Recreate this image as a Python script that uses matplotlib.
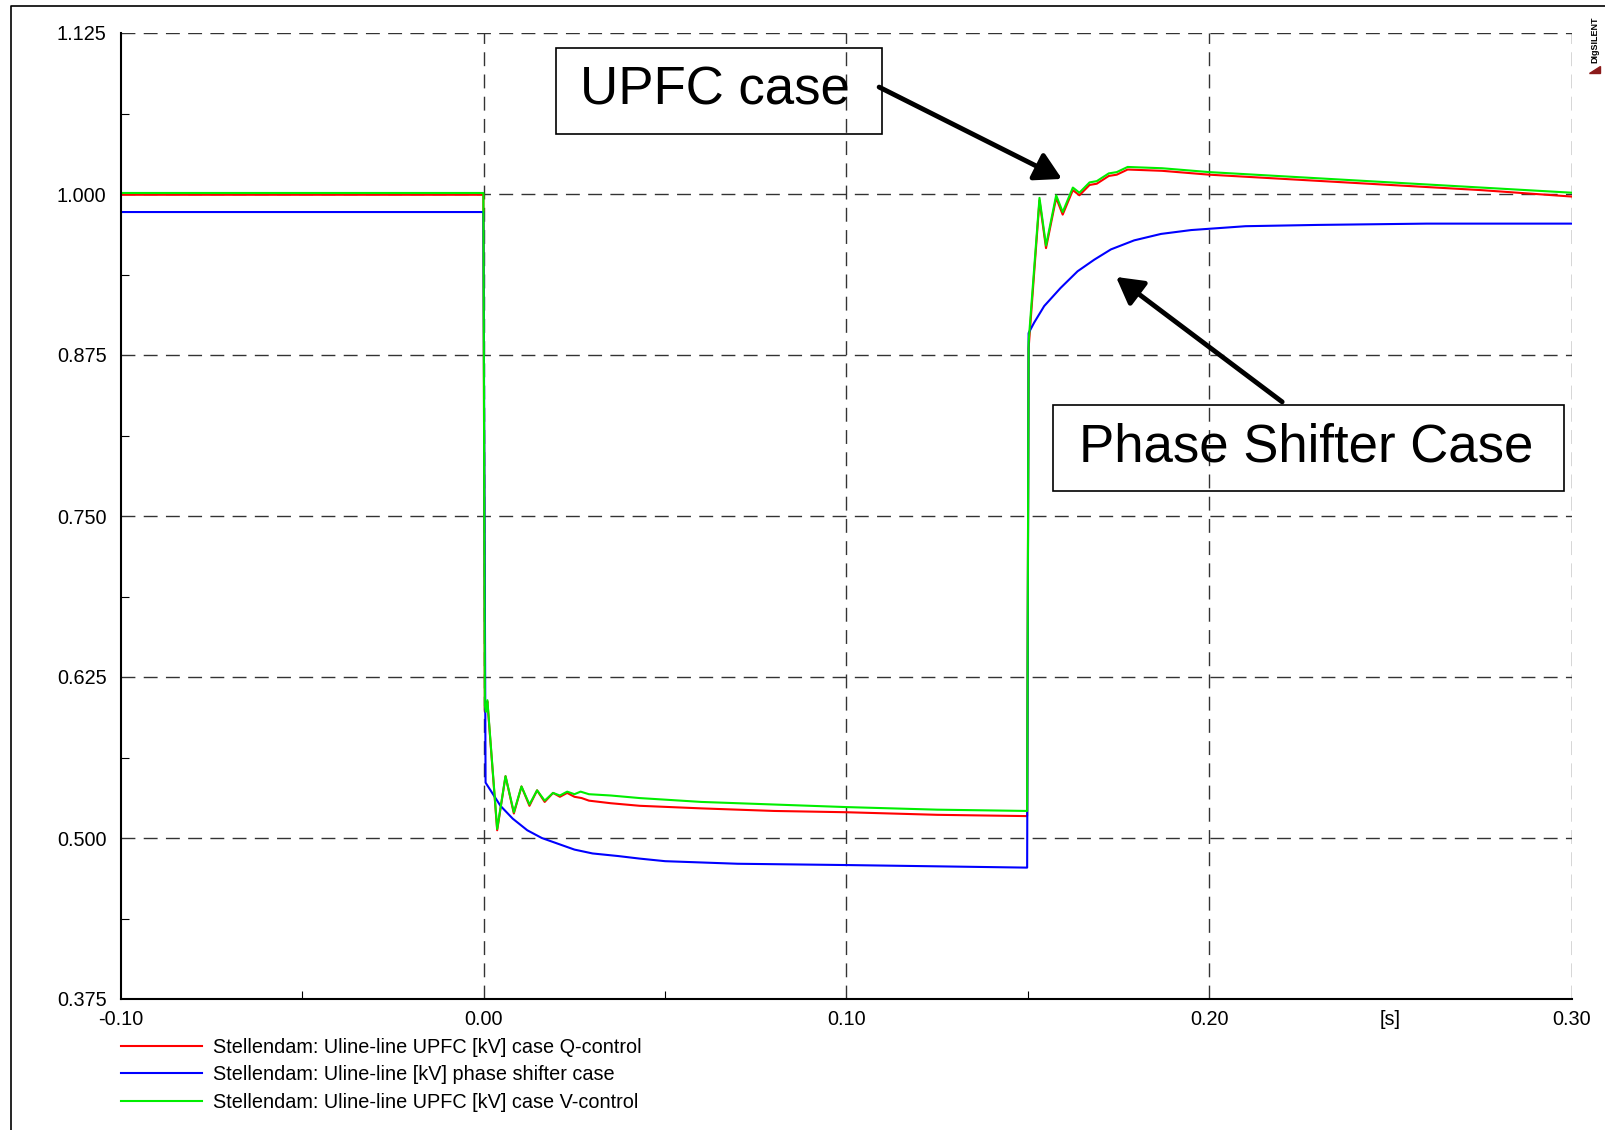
import matplotlib
matplotlib.use("Agg")
import matplotlib.pyplot as plt
from matplotlib.lines import Line2D
from matplotlib.patches import Rectangle, Polygon
from matplotlib.ticker import MultipleLocator

plt.rcParams['font.family'] = ['Liberation Sans', 'DejaVu Sans']

# --- data (time in s, voltage in p.u.) ---
t_red = [-0.1, -0.0001, 0.0003, 0.0006, 0.0010, 0.0037, 0.0060, 0.0083, 0.0104,
         0.0126, 0.0147, 0.0168, 0.0191, 0.0210, 0.0230, 0.0250, 0.0270, 0.0290,
         0.0350, 0.0430, 0.0600, 0.0800, 0.1000, 0.1250, 0.1498, 0.1502, 0.1532,
         0.1550, 0.1578, 0.1596, 0.1624, 0.1642, 0.1670, 0.1690, 0.1723, 0.1745,
         0.1775, 0.1870, 0.2000, 0.2250, 0.2500, 0.2750, 0.3000]
u_red = [0.9994, 0.9994, 0.598, 0.600, 0.606, 0.506, 0.548, 0.519, 0.540,
         0.525, 0.537, 0.528, 0.535, 0.532, 0.535, 0.532, 0.531, 0.529,
         0.527, 0.525, 0.523, 0.521, 0.520, 0.518, 0.517, 0.880, 0.995,
         0.958, 0.997, 0.984, 1.003, 0.999, 1.007, 1.008, 1.014, 1.015,
         1.019, 1.018, 1.015, 1.011, 1.007, 1.003, 0.998]

t_blue = [-0.1, -0.0001, 0.0005, 0.0046, 0.008, 0.012, 0.016, 0.021, 0.025,
          0.030, 0.037, 0.043, 0.05, 0.07, 0.10, 0.125, 0.1498, 0.1502, 0.1517,
          0.1545, 0.159, 0.1637, 0.1683, 0.1729, 0.1793, 0.1867, 0.195, 0.21,
          0.23, 0.26, 0.30]
u_blue = [0.986, 0.986, 0.543, 0.525, 0.515, 0.506, 0.500, 0.495, 0.491,
          0.488, 0.486, 0.484, 0.482, 0.480, 0.479, 0.478, 0.477, 0.892, 0.900,
          0.913, 0.927, 0.940, 0.949, 0.957, 0.964, 0.969, 0.972, 0.975,
          0.976, 0.977, 0.977]

t_green = [-0.1, -0.0001, 0.0003, 0.0006, 0.0010, 0.0037, 0.0060, 0.0083, 0.0104,
           0.0126, 0.0147, 0.0168, 0.0191, 0.0210, 0.0230, 0.0250, 0.0267, 0.0290,
           0.0350, 0.0430, 0.0600, 0.0800, 0.1000, 0.1250, 0.1498, 0.1502, 0.1532,
           0.1550, 0.1578, 0.1596, 0.1624, 0.1642, 0.1670, 0.1690, 0.1723, 0.1745,
           0.1775, 0.1870, 0.2000, 0.2250, 0.2500, 0.2750, 0.3000]
u_green = [1.0008, 1.0008, 0.603, 0.598, 0.607, 0.507, 0.548, 0.520, 0.540,
           0.526, 0.537, 0.529, 0.535, 0.533, 0.536, 0.534, 0.536, 0.534,
           0.533, 0.531, 0.528, 0.526, 0.524, 0.522, 0.521, 0.885, 0.997,
           0.960, 0.999, 0.986, 1.005, 1.001, 1.009, 1.010, 1.016, 1.017,
           1.021, 1.020, 1.017, 1.013, 1.009, 1.005, 1.001]

labels = ["Stellendam: Uline-line UPFC [kV] case Q-control",
          "Stellendam: Uline-line [kV] phase shifter case",
          "Stellendam: Uline-line UPFC [kV] case V-control"]

x_ticks = [-0.10, 0.00, 0.10, 0.20, 0.25, 0.30]
x_ticklabels = ["-0.10", "0.00", "0.10", "0.20", "[s]", "0.30"]
y_ticks = [0.375, 0.500, 0.625, 0.750, 0.875, 1.000, 1.125]

fig = plt.figure(figsize=(16.06, 11.3), dpi=100)
ax = fig.add_axes([121/1606, 1 - 999/1130, 1451/1606, 966/1130])

ax.plot(t_red, u_red, color='#ff0000', lw=1.5, label=labels[0])
ax.plot(t_blue, u_blue, color='#0000ff', lw=1.5, label=labels[1])
ax.plot(t_green, u_green, color='#00ee00', lw=1.5, label=labels[2])

ax.set_xlim(-0.1, 0.3)
ax.set_ylim(0.375, 1.125)
ax.set_xticks(x_ticks)
ax.set_xticklabels(x_ticklabels)
ax.set_yticks(y_ticks)
ax.set_yticklabels([f"{v:.3f}" for v in y_ticks])
ax.xaxis.set_minor_locator(MultipleLocator(0.05))
ax.yaxis.set_minor_locator(MultipleLocator(0.0625))
ax.tick_params(axis='both', which='major', direction='in', length=0,
               labelsize=14.3, pad=8, colors='black')
ax.tick_params(axis='y', which='major', pad=10.5)
ax.tick_params(axis='both', which='minor', direction='in', length=6, width=0.8)

# dashed grid only at the numbered ticks
for xv in [0.0, 0.1, 0.2, 0.3]:
    ax.axvline(xv, color='#333333', lw=1, ls=(0, (10, 6)), zorder=0)
for yv in y_ticks[1:]:
    ax.axhline(yv, color='#333333', lw=1, ls=(0, (10, 6)), zorder=0)

for s in ['top', 'right']:
    ax.spines[s].set_visible(False)
for s in ['left', 'bottom']:
    ax.spines[s].set_linewidth(1.5)

arrow_style = dict(arrowstyle='-|>,head_length=0.8,head_width=0.45',
                   lw=3.5, color='black', shrinkA=0, shrinkB=0,
                   mutation_scale=20)

# annotation boxes
ax.add_patch(Rectangle((0.0199, 1.0466), 0.0899, 0.0668, fill=False,
                       lw=1.2, ec='black', zorder=5, clip_on=False))
ax.text(0.0637, 1.080, "UPFC case", fontsize=38, ha='center', va='center', zorder=6)
ax.annotate("", xy=(0.1594, 1.0117), xytext=(0.109, 1.083), arrowprops=arrow_style)

ax.add_patch(Rectangle((0.157, 0.7696), 0.1408, 0.0667, fill=False,
                       lw=1.2, ec='black', zorder=5, clip_on=False))
ax.text(0.2268, 0.803, "Phase Shifter Case", fontsize=38, ha='center',
        va='center', zorder=6)
ax.annotate("", xy=(0.1743, 0.9356), xytext=(0.2201, 0.8386), arrowprops=arrow_style)

fig.legend(loc='upper left', bbox_to_anchor=(121/1606, 1 - 1038/1130),
           frameon=False, fontsize=14.3, handlelength=4.1, handletextpad=0.55,
           labelspacing=0.42, borderpad=0, borderaxespad=0)

# outer frame (top and left edge visible)
fig.add_artist(Line2D([11/1606, 11/1606, 1.0], [0.0, 1 - 6/1130, 1 - 6/1130],
                      transform=fig.transFigure, color='black', lw=1.2))

# DIgSILENT mark
fig.text(1595/1606, 1 - 40/1130, "DIgSILENT", rotation=90, fontsize=6.5,
         fontweight='bold', ha='center', va='center')
fig.add_artist(Polygon([[1589/1606, 1 - 73/1130], [1600/1606, 1 - 73/1130],
                        [1600/1606, 1 - 66/1130]], closed=True,
                       transform=fig.transFigure, color='#8b1a1a'))

fig.savefig("out.png", dpi=100)
